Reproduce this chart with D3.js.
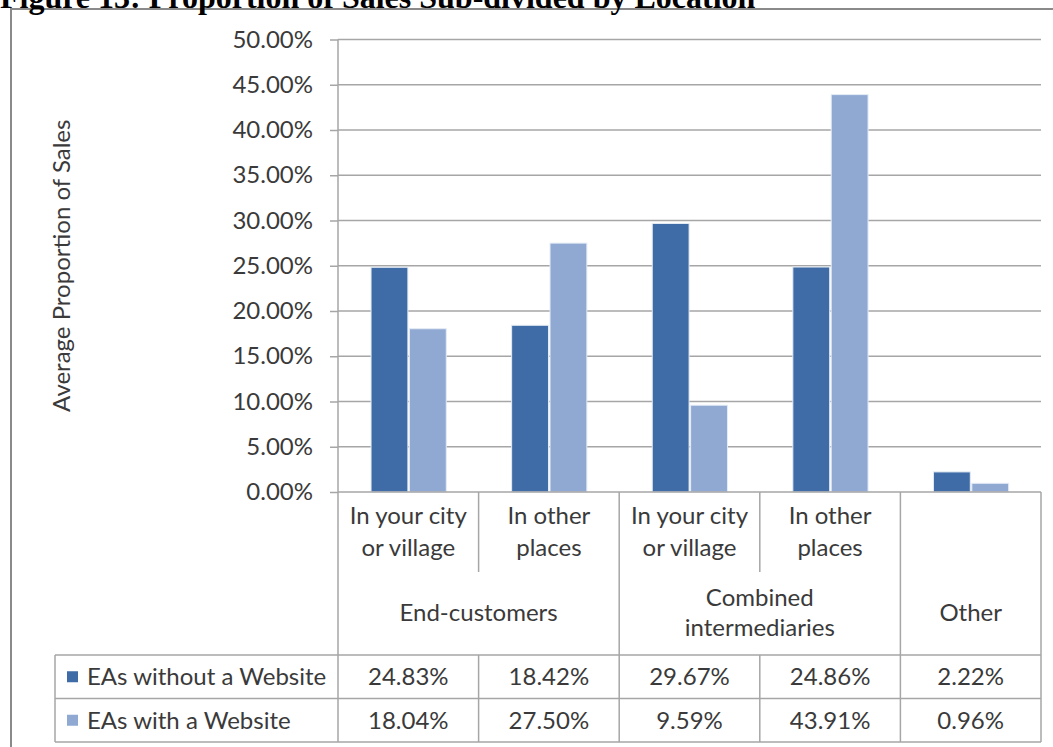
<!DOCTYPE html>
<html>
<head>
<meta charset="utf-8">
<script src="https://cdn.jsdelivr.net/npm/d3@7"></script>
<style>
  html, body { margin: 0; padding: 0; background: #fff; }
  svg { display: block; }
  text { font-family: Lato, "Open Sans", sans-serif; fill: #3a3a3a; }
</style>
</head>
<body>
<svg id="chart" width="1053" height="747"></svg>
<script>
// Sub-category of each bar group (two lines each), and the parent groups they belong to
const categories = [
  ["In your city", "or village"],
  ["In other", "places"],
  ["In your city", "or village"],
  ["In other", "places"],
  ["", ""]
];
const groups = [
  { lines: ["End-customers"], from: 0, to: 1 },
  { lines: ["Combined", "intermediaries"], from: 2, to: 3 },
  { lines: ["Other"], from: 4, to: 4 }
];
const seriesNames = ["EAs without a Website", "EAs with a Website"];
const withoutWebsite = [24.83, 18.42, 29.67, 24.86, 2.22];
const withWebsite = [18.04, 27.50, 9.59, 43.91, 0.96];
const yTicks = [0, 5, 10, 15, 20, 25, 30, 35, 40, 45, 50];
const colors = ["#3f6ca6", "#8fa9d3"];

const values = [withoutWebsite, withWebsite];
const svg = d3.select("#chart");

// Layout
const plotLeft = 338, plotRight = 1041, plotTop = 39.5, plotBottom = 492;
const tableTop = 655, rowH = 43.5, tableLeft = 55;
const gridColor = "#a6a6a6";
const fs = "24px";

// Outer frame
svg.append("rect")
  .attr("x", 11).attr("y", 9).attr("width", 1080).attr("height", 780)
  .attr("fill", "none").attr("stroke", "#8a8a8a").attr("stroke-width", 2);

// Heading
svg.append("text")
  .attr("x", 0).attr("y", 8)
  .style("font-family", "'Liberation Serif', 'Times New Roman', serif")
  .style("font-weight", "bold").style("font-size", "32px").style("fill", "#000")
  .text("Figure 13: Proportion of Sales Sub-divided by Location");

// Scales
const x = d3.scaleBand().domain(d3.range(categories.length)).range([plotLeft, plotRight]);
const bw = x.bandwidth();
const x1 = d3.scaleBand().domain(seriesNames).range([bw * 0.235, bw * 0.77]).paddingInner(0.04);
const y = d3.scaleLinear().domain([0, 50]).range([plotBottom, plotTop]);

// Gridlines
svg.append("g").selectAll("line").data(yTicks.filter(t => t > 0)).join("line")
  .attr("x1", plotLeft).attr("x2", plotRight)
  .attr("y1", d => y(d)).attr("y2", d => y(d))
  .attr("stroke", gridColor).attr("stroke-width", 1.5);

// Y axis
const yAxis = svg.append("g").attr("transform", `translate(${plotLeft},0)`)
  .call(d3.axisLeft(y).tickValues(yTicks).tickSize(8).tickPadding(17)
    .tickFormat(d => d.toFixed(2) + "%"));
yAxis.select(".domain").remove();
yAxis.selectAll(".tick line").attr("stroke", gridColor).attr("stroke-width", 1.5);
yAxis.selectAll(".tick text").style("font-size", fs).style("font-family", "Lato, sans-serif").attr("fill", "#3a3a3a");
svg.append("line")
  .attr("x1", plotLeft).attr("x2", plotLeft).attr("y1", plotTop).attr("y2", plotBottom)
  .attr("stroke", gridColor).attr("stroke-width", 1.5);

// Axis title
svg.append("text")
  .attr("transform", `translate(62,${(plotTop + plotBottom) / 2}) rotate(-90)`)
  .attr("text-anchor", "middle").attr("dy", "0.35em")
  .style("font-size", fs)
  .text("Average Proportion of Sales");

// Bars
const barG = svg.append("g");
seriesNames.forEach((name, si) => {
  barG.append("g").selectAll("rect").data(values[si]).join("rect")
    .attr("x", (d, i) => x(i) + x1(name))
    .attr("width", x1.bandwidth())
    .attr("y", d => y(d))
    .attr("height", d => y(0) - y(d))
    .attr("fill", colors[si])
    .attr("stroke", "#e4ebf4").attr("stroke-width", 1);
});

// Category table below the axis
const tbl = svg.append("g").attr("stroke", gridColor).attr("stroke-width", 1.5);
const tableBottom = tableTop + 2 * rowH;
// axis baseline
tbl.append("line").attr("x1", plotLeft).attr("x2", plotRight).attr("y1", plotBottom).attr("y2", plotBottom);
// row lines
[tableTop, tableTop + rowH, tableBottom].forEach(yy =>
  tbl.append("line").attr("x1", tableLeft).attr("x2", plotRight).attr("y1", yy).attr("y2", yy));
tbl.append("line").attr("x1", tableLeft).attr("x2", tableLeft).attr("y1", tableTop).attr("y2", tableBottom);
// group boundaries (full height)
const groupEdges = [plotLeft].concat(groups.map(g => x(g.to) + bw));
groupEdges.forEach(xx =>
  tbl.append("line").attr("x1", xx).attr("x2", xx).attr("y1", plotBottom).attr("y2", tableBottom));
// inner boundaries between sub-categories
groups.filter(g => g.to > g.from).forEach(g => {
  const xx = x(g.from) + bw;
  tbl.append("line").attr("x1", xx).attr("x2", xx).attr("y1", plotBottom).attr("y2", 572);
  tbl.append("line").attr("x1", xx).attr("x2", xx).attr("y1", tableTop).attr("y2", tableBottom);
});

// Sub-category labels
const subG = svg.append("g").attr("text-anchor", "middle").style("font-size", fs);
categories.forEach((lines, i) => {
  lines.forEach((t, li) => {
    subG.append("text")
      .attr("x", x(i) + bw / 2).attr("y", 516 + li * 32)
      .attr("dy", "0.35em").text(t);
  });
});

// Group labels
groups.forEach(g => {
  const cx = (x(g.from) + x(g.to) + bw) / 2;
  const n = g.lines.length;
  g.lines.forEach((t, li) => {
    subG.append("text")
      .attr("x", cx).attr("y", 613 + (li - (n - 1) / 2) * 30)
      .attr("dy", "0.35em").text(t);
  });
});

// Data rows with legend keys
const rowG = svg.append("g").style("font-size", fs);
seriesNames.forEach((name, si) => {
  const cy = tableTop + rowH * si + rowH / 2;
  rowG.append("rect").attr("x", 67).attr("y", cy - 5.5).attr("width", 11).attr("height", 11).attr("fill", colors[si]);
  rowG.append("text").attr("x", 87).attr("y", cy).attr("dy", "0.35em").text(name);
  values[si].forEach((v, i) => {
    rowG.append("text").attr("text-anchor", "middle")
      .attr("x", x(i) + bw / 2).attr("y", cy).attr("dy", "0.35em")
      .text(v.toFixed(2) + "%");
  });
});
</script>
</body>
</html>
